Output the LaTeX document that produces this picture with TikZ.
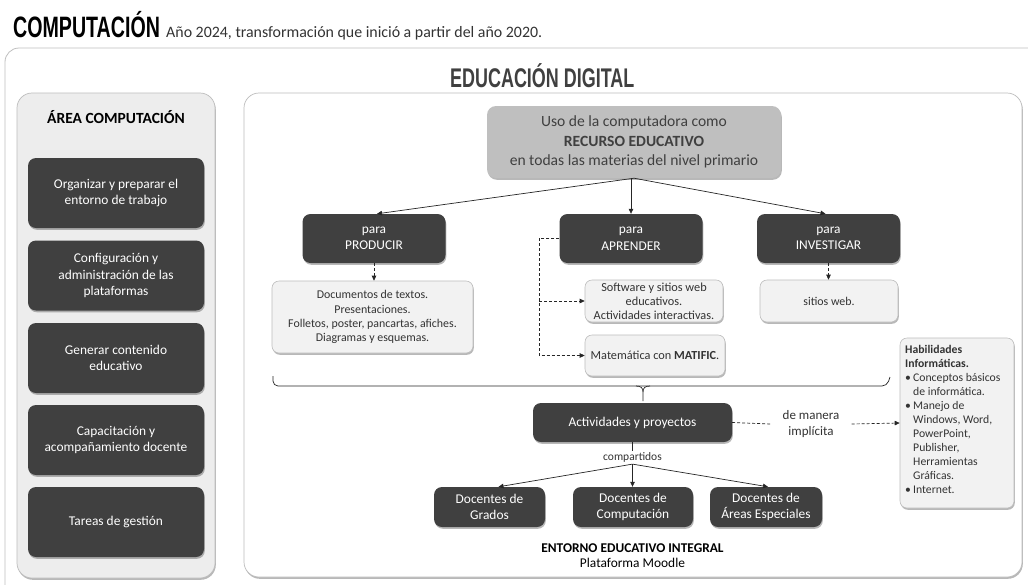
\documentclass[tikz,border=0pt]{standalone}
\usepackage{fontspec}
\setmainfont{Carlito}
\newfontfamily\condfont[FakeStretch=0.665]{Liberation Sans}
\usetikzlibrary{shadows,arrows.meta,calc}
\definecolor{dark}{HTML}{404040}
\definecolor{panelgray}{HTML}{EDEDED}
\definecolor{lightbox}{HTML}{F2F2F2}
\definecolor{midgray}{HTML}{BFBFBF}
\definecolor{edgegray}{HTML}{BDBDBD}
\definecolor{txtgray}{HTML}{333333}
\tikzset{
  shad/.style={drop shadow={shadow xshift=0.8pt,shadow yshift=-1.8pt,fill=black,opacity=0.28}},
  darkbox/.style={shad,fill=dark,text=white,rounded corners=8pt,align=center,inner sep=0pt,
     font=\fontsize{13.4}{16.5}\selectfont},
  lightnode/.style={shad,fill=lightbox,draw=edgegray,line width=0.6pt,rounded corners=7pt,align=center,
     inner sep=0pt,text=txtgray},
  panel/.style={shad,draw=edgegray,line width=0.7pt,rounded corners=15pt,inner sep=0pt},
  conn/.style={draw=black!85,line width=0.7pt},
  arr/.style={conn,-{Triangle[length=5pt,width=4.5pt]}},
  darr/.style={arr,dashed,dash pattern=on 3pt off 2pt},
  dline/.style={conn,dashed,dash pattern=on 3pt off 2pt},
}
\begin{document}
\begin{tikzpicture}[x=1pt,y=-1pt]
\useasboundingbox (0,0) rectangle (1028,584);
\fill[white] (0,0) rectangle (1028,584);
% outer frame
\draw[draw=midgray,line width=0.8pt,rounded corners=14pt] (5,48) rectangle (1060,620);
% title
\node[anchor=base west,inner sep=0pt,font=\condfont\bfseries\fontsize{29.5}{30}\selectfont] (title) at (13,37) {COMPUTACIÓN};
\node[anchor=base west,inner sep=0pt,font=\fontsize{15.9}{18}\selectfont,text=txtgray] (subtitle) at (166,37) {Año 2024, transformación que inició a partir del año 2020.};
\node[anchor=base west,inner sep=0pt,text=dark,font=\condfont\bfseries\fontsize{27}{28}\selectfont] (heading) at (450,87) {EDUCACIÓN DIGITAL};
% panels
\node[panel,fill=panelgray,minimum width=198pt,minimum height=485pt] (lpanel) at (116,335.5) {};
\node[panel,fill=white,minimum width=778pt,minimum height=484pt] (rpanel) at (633,335) {};
% left column
\node[font=\bfseries\fontsize{15.5}{18}\selectfont,text=black] (areatitle) at (116,117) {ÁREA COMPUTACIÓN};
\node[darkbox,minimum width=176pt,minimum height=70pt] (l1) at (116,193) {Organizar y preparar el\\entorno de trabajo};
\node[darkbox,minimum width=176pt,minimum height=70pt] (l2) at (116,275.5) {Configuración y\\administración de las\\plataformas};
\node[darkbox,minimum width=176pt,minimum height=70pt] (l3) at (116,358) {Generar contenido\\educativo};
\node[darkbox,minimum width=176pt,minimum height=70pt] (l4) at (116,440) {Capacitación y\\acompañamiento docente};
\node[darkbox,minimum width=176pt,minimum height=70pt] (l5) at (116,522) {Tareas de gestión};
% top box
\node[shad,fill=midgray,rounded corners=9pt,minimum width=294pt,minimum height=72pt,align=center,inner sep=0pt,
  text=dark,font=\fontsize{15.6}{19.5}\selectfont] (rec) at (634,142) {Uso de la computadora como\\\textbf{RECURSO EDUCATIVO}\\en todas las materias del nivel primario};
% para boxes
\node[darkbox,minimum width=143pt,minimum height=49pt] (p1) at (374,238.5) {para\\PRODUCIR};
\node[darkbox,minimum width=143pt,minimum height=49pt] (p2) at (631,238.5) {para\\APRENDER};
\node[darkbox,minimum width=143pt,minimum height=49pt] (p3) at (828.5,238.5) {para\\INVESTIGAR};
\draw[arr] (rec.south) -- ([xshift=3pt]p1.north);
\draw[arr] (rec.south -| p2.north) -- (p2.north);
\draw[arr] (rec.south) -- ([xshift=-3pt]p3.north);
% light boxes
\node[lightnode,minimum width=201pt,minimum height=72pt,font=\fontsize{11.9}{14.2}\selectfont] (docs) at (372.5,317)
  {Documentos de textos.\\Presentaciones.\\Folletos, poster, pancartas, afiches.\\Diagramas y esquemas.};
\node[lightnode,minimum width=138pt,minimum height=42pt,font=\fontsize{12.3}{14}\selectfont] (soft) at (654,301)
  {Software y sitios web\\educativos.\\Actividades interactivas.};
\node[lightnode,minimum width=140pt,minimum height=41pt,font=\fontsize{12.3}{14}\selectfont] (mat) at (655,355.5)
  {Matemática con \textbf{MATIFIC}.};
\node[lightnode,minimum width=138pt,minimum height=42pt,font=\fontsize{11.9}{14}\selectfont] (web) at (829,301)
  {sitios web.};
\draw[darr] (p1.south) -- (p1.south |- docs.north);
\draw[darr] (p3.south) -- (p3.south |- web.north);
\coordinate (dj) at (539,0);
\draw[darr] (p2.west) -| (mat.west -| dj) -- (mat.west);
\draw[darr] (soft.west -| dj) -- (soft.west);
% brace
\coordinate (bl) at (273,376);
\coordinate (br) at (890,377);
\coordinate (btip) at (643,401);
\draw[conn,rounded corners=5pt] (bl) -- (273,386) -- (887,386) -- (br);
\draw[conn] (636,386) .. controls (641,386) and (643,388) .. (643,392) -- (btip);
\draw[conn] (650,386) .. controls (645,386) and (643,388) .. (643,392);
% actividades
\node[darkbox,minimum width=199pt,minimum height=39pt] (act) at (632.5,422.5) {Actividades y proyectos};
\node[font=\fontsize{13}{16}\selectfont,text=txtgray,align=center,inner xsep=12pt,inner ysep=0pt] (dm) at (811,424) {de manera\\implícita};
\node[lightnode,minimum width=114pt,minimum height=170pt] (hab) at (957,423) {};
\node[anchor=north west,inner sep=0pt,align=left,text=txtgray,font=\fontsize{11.7}{14}\selectfont] (habtxt) at (905,345)
  {\textbf{Habilidades}\\\textbf{Informáticas.}\\
   \makebox[8pt][l]{•}Conceptos básicos\\\hspace*{8pt}de informática.\\
   \makebox[8pt][l]{•}Manejo de\\\hspace*{8pt}Windows, Word,\\\hspace*{8pt}PowerPoint,\\\hspace*{8pt}Publisher,\\\hspace*{8pt}Herramientas\\\hspace*{8pt}Gráficas.\\
   \makebox[8pt][l]{•}Internet.};
\draw[dline] (act.east) -- (dm.west);
\draw[darr] (dm.east) -- (hab.west);
% compartidos
\node[font=\fontsize{11.5}{13}\selectfont,text=txtgray,inner xsep=2pt,inner ysep=1.5pt] (cmp) at (632.5,457.5) {compartidos};
\draw[conn] (act.south) -- (cmp.north);
\node[darkbox,minimum width=111pt,minimum height=40pt] (d1) at (489.5,507) {Docentes de\\Grados};
\node[darkbox,minimum width=120pt,minimum height=40pt] (d2) at (633,507) {Docentes de\\Computación};
\node[darkbox,minimum width=112pt,minimum height=40pt] (d3) at (766,507) {Docentes de\\Áreas Especiales};
\draw[arr] (cmp.south) -- ([xshift=9pt]d1.north);
\draw[arr] (cmp.south) -- (cmp.south |- d2.north);
\draw[arr] (cmp.south) -- ([xshift=2pt]d3.north);
\node[align=center,text=black,font=\fontsize{13.4}{15.5}\selectfont] (ent) at (632.5,555.5) {\textbf{ENTORNO EDUCATIVO INTEGRAL}\\Plataforma Moodle};
\end{tikzpicture}
\end{document}
